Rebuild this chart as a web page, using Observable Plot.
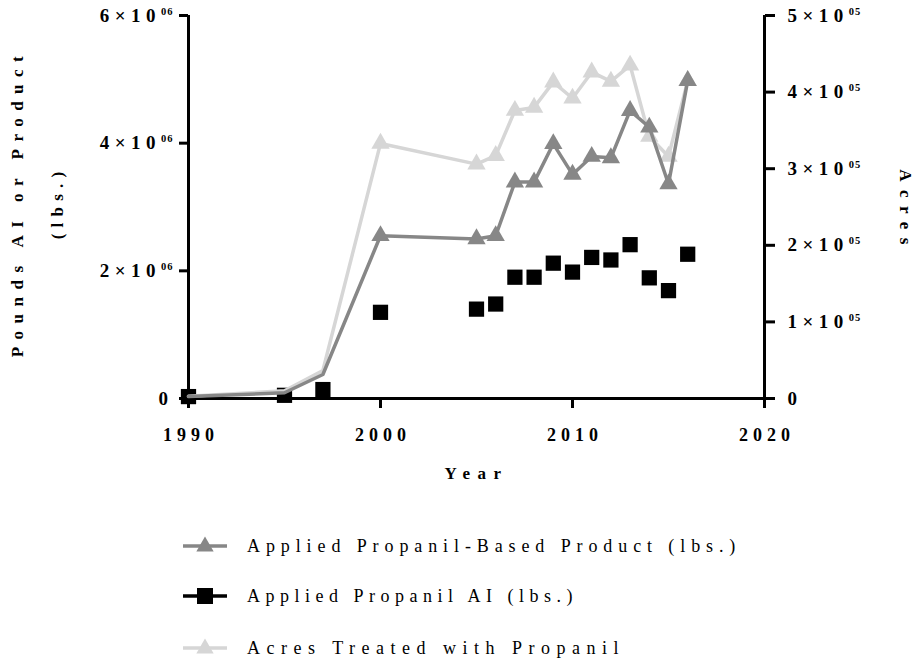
<!DOCTYPE html>
<html><head><meta charset="utf-8">
<script src="https://cdn.jsdelivr.net/npm/d3@7"></script>
<script src="https://cdn.jsdelivr.net/npm/@observablehq/plot@0.6"></script>
<style>
body{margin:0;background:#fff;font-family:"Liberation Serif","Times New Roman",Times,serif;}
#wrap{position:relative;width:917px;height:662px;overflow:hidden;}
#wrap svg.plot{position:absolute;left:0;top:0;}
#wrap svg.plot text{font-family:"Liberation Serif","Times New Roman",Times,serif !important;}
.leg{position:absolute;left:183px;height:24px;display:flex;align-items:center;font-family:"Liberation Serif","Times New Roman",Times,serif;font-size:18px;letter-spacing:5.5px;color:#000;white-space:nowrap;}
.leg svg{margin-right:20px;flex:none}
</style></head><body><div id="wrap"></div>
<script>
// ---- data ----
const years = [1990,1995,1997,2000,2005,2006,2007,2008,2009,2010,2011,2012,2013,2014,2015,2016];
const productLbs = [30000,90000,376000,2550000,2500000,2550000,3390000,3390000,3990000,3510000,3790000,3770000,4510000,4250000,3360000,4980000];
const aiLbs = [30000,50000,140000,1350000,1400000,1480000,1900000,1900000,2120000,1980000,2210000,2170000,2410000,1890000,1690000,2260000];
const acresTreated = [3000,10000,36500,333000,306000,317000,376000,380000,413000,392000,426000,414000,435000,342000,316000,415000];
const leftTicks = [0,2000000,4000000,6000000];
const rightTicks = [0,100000,200000,300000,400000,500000];
const xTicks = [1990,2000,2010,2020];
const seriesNames = ["Applied Propanil-Based Product (lbs.)","Applied Propanil AI (lbs.)","Acres Treated with Propanil"];
const yTitle = ["Pounds AI or Product","(lbs.)"];
const y2Title = "Acres";
const xTitle = "Year";

const ratio = 6000000/500000; // right axis maps onto left axis range
const C_PROD = "#878787", C_AI = "#000000", C_ACRES = "#d6d6d6";
const FONT = "'Liberation Serif', 'Times New Roman', Times, serif";

const rows = years.map((year,i)=>({year, product: productLbs[i], ai: aiLbs[i], acres: acresTreated[i]*ratio}));

const fmtL = d => d === 0 ? "0" : `${d/1e6}|06`;
const fmtR = d => { const v = Math.round(d/ratio); return v === 0 ? "0" : `${Math.round(v/1e5)}|05`; };

const plot = Plot.plot({
  width: 917, height: 510,
  marginLeft: 188, marginRight: 153, marginTop: 15, marginBottom: 112,
  x: {domain: [1990, 2020]},
  y: {domain: [0, 6000000]},
  style: {fontFamily: FONT, fontWeight: "bold", fontSize: "19px", color: "#000", background: "#fff"},
  marks: [
    Plot.axisX({ticks: xTicks, tickSize: 10, tickPadding: 20, tickFormat: d => String(d), strokeWidth: 3, label: null, fontSize: 18}),
    Plot.axisY({ticks: leftTicks, tickSize: 9, tickPadding: 6, tickFormat: fmtL, strokeWidth: 3, label: null, fontSize: 19}),
    Plot.axisY({anchor: "right", ticks: rightTicks.map(v => v*ratio), tickSize: 10, tickPadding: 13, tickFormat: fmtR, strokeWidth: 3, label: null, fontSize: 19}),
    Plot.ruleX([1990], {strokeWidth: 3}),
    Plot.ruleX([2020], {strokeWidth: 3}),
    Plot.ruleY([0], {strokeWidth: 3}),
    Plot.dot(rows, {x: "year", y: "ai", symbol: "square", r: 8.6, fill: C_AI, stroke: "none"}),
    Plot.line(rows, {x: "year", y: "acres", stroke: C_ACRES, strokeWidth: 3.5}),
    Plot.dot(rows, {filter: d => d.year >= 2000, x: "year", y: "acres", symbol: "triangle", r: 6.8, fill: C_ACRES, stroke: "none"}),
    Plot.line(rows, {x: "year", y: "product", stroke: C_PROD, strokeWidth: 3.5}),
    Plot.dot(rows, {filter: d => d.year >= 2000, x: "year", y: "product", symbol: "triangle", r: 6.8, fill: C_PROD, stroke: "none"}),
    Plot.text([yTitle[0]], {frameAnchor: "left", textAnchor: "middle", dx: -171, dy: -4, rotate: -90, fontSize: 17, fontWeight: "bold"}),
    Plot.text([yTitle[1]], {frameAnchor: "left", textAnchor: "middle", dx: -131, dy: -4.5, rotate: -90, fontSize: 17, fontWeight: "bold"}),
    Plot.text([y2Title], {frameAnchor: "right", textAnchor: "middle", dx: 141, dy: 4, rotate: 90, fontSize: 17, fontWeight: "bold"}),
    Plot.text([xTitle], {frameAnchor: "bottom", textAnchor: "middle", dy: 80, fontSize: 17, fontWeight: "bold"})
  ]
});
plot.classList.add("plot");

// superscript tick labels + letter spacing
const svg = d3.select(plot);
svg.selectAll("text").each(function() {
  const t = d3.select(this);
  const s = t.text();
  if (s.includes("|")) {
    const [m, e] = s.split("|");
    t.text("");
    t.style("font-size", "19px").style("letter-spacing", "5.5px");
    t.append("tspan").text(`${m}×10`);
    t.append("tspan").attr("dy", "-7").style("font-size", "10.5px").style("letter-spacing", "1px").text(e);
  } else if (s === "0") {
    t.style("font-size", "19px").style("letter-spacing", "5.5px");
  } else if (s === yTitle[0]) {
    t.style("letter-spacing", "7.5px");
  } else if (s === yTitle[1]) {
    t.style("letter-spacing", "6.2px");
  } else if (s === y2Title) {
    t.style("letter-spacing", "8.5px");
  } else if (s === xTitle) {
    t.style("letter-spacing", "7.5px");
  } else if (/^\d{4}$/.test(s)) {
    t.style("font-size", "18px").style("letter-spacing", "5px").attr("dx", "2.5");
  }
});

const wrap = document.getElementById("wrap");
wrap.appendChild(plot);

// legend
const legendY = [546, 596, 648];
const legendColors = [C_PROD, C_AI, C_ACRES];
const legendSymbols = ["triangle", "square", "triangle"];
const legendSpacing = ["5.9px", "5.5px", "6.5px"];
seriesNames.forEach((name, i) => {
  const div = document.createElement("div");
  div.className = "leg";
  div.style.top = (legendY[i] - 12) + "px";
  div.style.letterSpacing = legendSpacing[i];
  const w = 44;
  const sym = legendSymbols[i] === "square"
    ? `<rect x="${w/2-8}" y="4" width="16" height="16" fill="${legendColors[i]}"/>`
    : `<path d="${d3.symbol(d3.symbolTriangle, 130)()}" transform="translate(${w/2},12.5)" fill="${legendColors[i]}"/>`;
  div.innerHTML = `<svg width="${w}" height="24"><line x1="0" x2="${w}" y1="12" y2="12" stroke="${legendColors[i]}" stroke-width="3.5"/>${sym}</svg><span>${name}</span>`;
  wrap.appendChild(div);
});
</script></body></html>
